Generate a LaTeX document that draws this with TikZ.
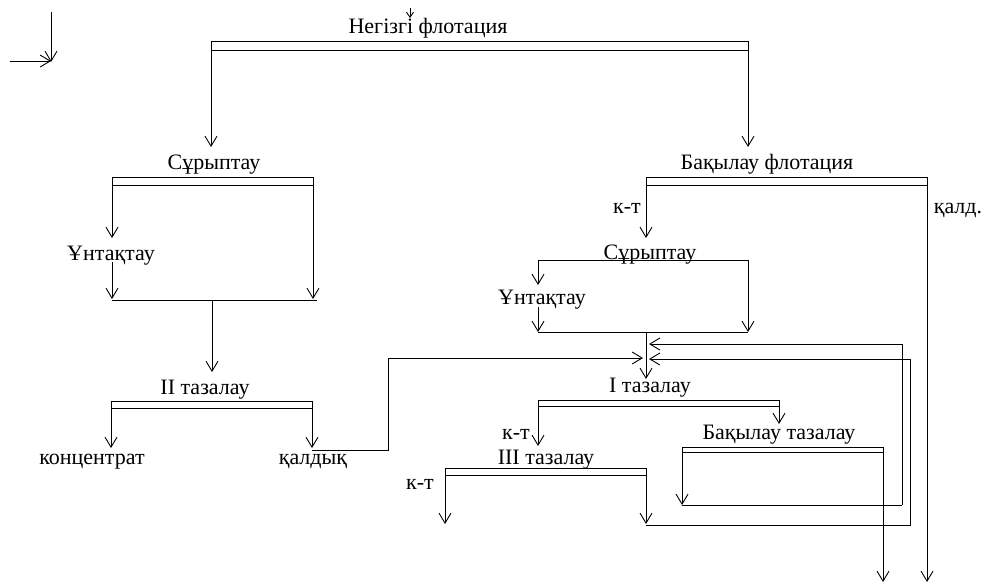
\documentclass[tikz,border=0pt]{standalone}
\usepackage{fontspec}
\setmainfont{Liberation Serif}
\usetikzlibrary{arrows.meta}
\begin{document}
\begin{tikzpicture}[x=1pt,y=-1pt,
  lbl/.style={anchor=base,inner sep=0pt,font=\fontsize{22}{22}\selectfont},
  ln/.style={line width=0.9pt,line join=miter},
  arr/.style={ln,-{Straight Barb[length=10pt,width=12pt,line width=0.9pt]}},
  sarr/.style={ln,-{Straight Barb[length=5pt,width=7pt,line width=0.9pt]}}]
\useasboundingbox (0,0) rectangle (987,587);
% top-left arrows
\coordinate (tlA) at (51,12); \coordinate (tlB) at (51,62);
\coordinate (tlC) at (10,61); \coordinate (tlD) at (51,61);
\draw[arr] (tlA) -- (tlB);
\draw[arr] (tlC) -- (tlD);
% main flotation
\coordinate (sa1) at (410,8); \coordinate (sa2) at (410,18);
\draw[sarr] (sa1) -- (sa2);
\node[lbl] (neg) at (428,33) {Негізгі флотация};
\coordinate (b1tl) at (211,41); \coordinate (b1br) at (748,50);
\draw[ln] (b1tl) rectangle (b1br);
\coordinate (s1in) at (211,147); \coordinate (bf1in) at (748,147);
\draw[arr] (b1tl |- b1br) -- (s1in);
\draw[arr] (b1br) -- (bf1in);
% left branch
\node[lbl] (sur1) at (214,169) {Сұрыптау};
\coordinate (b2tl) at (112,177); \coordinate (b2br) at (313,185);
\draw[ln] (b2tl) rectangle (b2br);
\coordinate (unt1in) at (112,238);
\draw[arr] (b2tl |- b2br) -- (unt1in);
\node[lbl] (unt1) at (111,260) {Ұнтақтау};
\coordinate (unt1out) at (112,262); \coordinate (m1l) at (112,299); \coordinate (m1r) at (313,299);
\draw[arr] (unt1out) -- (m1l);
\draw[arr] (b2br) -- (m1r);
\coordinate (h1l) at (112,300); \coordinate (h1r) at (317,300);
\draw[ln] (h1l) -- (h1r);
\coordinate (h1m) at (212,300); \coordinate (t2in) at (212,372);
\draw[arr] (h1m) -- (t2in);
\node[lbl] (t2) at (205,394) {II тазалау};
\coordinate (b4tl) at (111,401); \coordinate (b4br) at (312,408);
\draw[ln] (b4tl) rectangle (b4br);
\coordinate (konin) at (111,448); \coordinate (qalin) at (312,448);
\draw[arr] (b4tl |- b4br) -- (konin);
\draw[arr] (b4br) -- (qalin);
\node[lbl] (kon) at (92,464) {концентрат};
\node[lbl] (qal) at (313,464) {қалдық};
\coordinate (r1a) at (312,450); \coordinate (r1b) at (388,450);
\coordinate (r1c) at (388,358); \coordinate (r1d) at (643,358);
\draw[arr] (r1a) -- (r1b) -- (r1c) -- (r1d);
% right branch
\node[lbl] (bf) at (767,169) {Бақылау флотация};
\coordinate (b7tl) at (646,177); \coordinate (b7br) at (927,185);
\draw[ln] (b7tl) rectangle (b7br);
\coordinate (s2in) at (646,238);
\draw[arr] (b7tl |- b7br) -- (s2in);
\node[lbl] (kt1) at (627,213) {к-т};
\coordinate (qout) at (927,582);
\draw[arr] (b7br) -- (qout);
\node[lbl] (qald) at (958,213) {қалд.};
\node[lbl] (sur2) at (650,259) {Сұрыптау};
\coordinate (l8l) at (538,260); \coordinate (l8r) at (748,260);
\draw[ln] (l8l) -- (l8r);
\coordinate (unt2in) at (538,285);
\draw[arr] (l8l) -- (unt2in);
\node[lbl] (unt2) at (542,304) {Ұнтақтау};
\coordinate (unt2out) at (538,307); \coordinate (m2l) at (538,332); \coordinate (m2r) at (748,332);
\draw[arr] (unt2out) -- (m2l);
\draw[arr] (l8r) -- (m2r);
\draw[ln] (m2l) -- (m2r);
\coordinate (m2m) at (646,332); \coordinate (t1in) at (646,379);
\draw[arr] (m2m) -- (t1in);
\node[lbl] (t1) at (650,392) {I тазалау};
\coordinate (b10tl) at (538,400); \coordinate (b10br) at (779,406);
\draw[ln] (b10tl) rectangle (b10br);
\coordinate (t3in) at (538,446); \coordinate (btin) at (779,424);
\draw[arr] (b10tl |- b10br) -- (t3in);
\draw[arr] (b10br) -- (btin);
\node[lbl] (kt2) at (516,439) {к-т};
\node[lbl] (bt) at (779,439) {Бақылау тазалау};
\coordinate (b11tl) at (682,447); \coordinate (b11br) at (883,452);
\draw[ln] (b11tl) rectangle (b11br);
\coordinate (btk) at (682,505);
\draw[arr] (b11tl |- b11br) -- (btk);
\coordinate (btout) at (883,582);
\draw[arr] (b11br) -- (btout);
\coordinate (rr1a) at (902,505); \coordinate (rr1b) at (902,344); \coordinate (rr1c) at (649,344);
\draw[ln] (btk) -- (rr1a);
\draw[arr] (rr1a) -- (rr1b) -- (rr1c);
\node[lbl] (t3) at (546,464) {III тазалау};
\coordinate (b12tl) at (445,468); \coordinate (b12br) at (646,475);
\draw[ln] (b12tl) rectangle (b12br);
\coordinate (t3k) at (445,524); \coordinate (t3q) at (646,524);
\draw[arr] (b12tl |- b12br) -- (t3k);
\draw[arr] (b12br) -- (t3q);
\node[lbl] (kt3) at (420,489) {к-т};
\coordinate (rr2a) at (646,525); \coordinate (rr2b) at (910,525);
\coordinate (rr2c) at (910,359); \coordinate (rr2d) at (649,359);
\draw[arr] (rr2a) -- (rr2b) -- (rr2c) -- (rr2d);
\end{tikzpicture}
\end{document}
